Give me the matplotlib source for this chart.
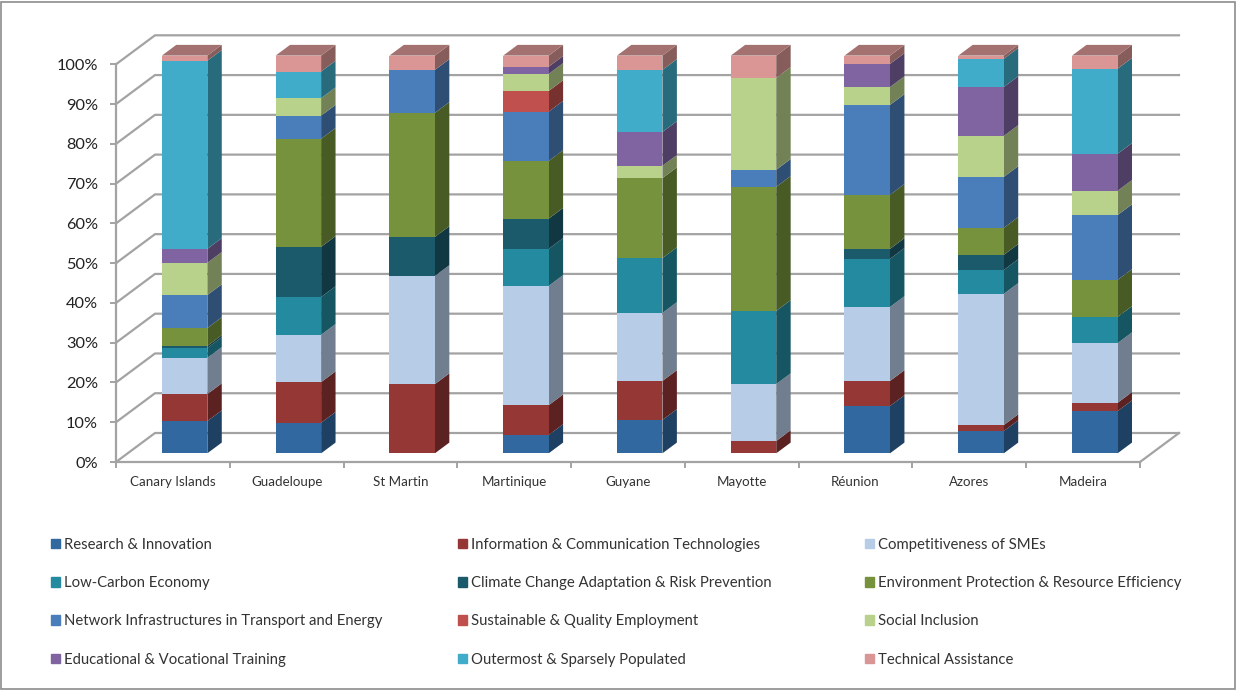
import matplotlib
matplotlib.use('Agg')
import matplotlib.pyplot as plt
from matplotlib.colors import to_rgb
from matplotlib.patches import Rectangle

plt.rcParams['font.family'] = ['Lato', 'DejaVu Sans']

W, H = 1236, 690

regions = ['Canary Islands', 'Guadeloupe', 'St Martin', 'Martinique', 'Guyane', 'Mayotte', 'Réunion', 'Azores', 'Madeira']

research = [8.1, 7.7, 0, 4.6, 8.4, 0, 11.9, 5.6, 10.6]
ict = [6.8, 10.2, 17.4, 7.5, 9.8, 3.1, 6.3, 1.5, 2.1]
smes = [9.1, 11.9, 27.2, 30.0, 17.1, 14.3, 18.6, 33.0, 15.0]
low_carbon = [2.5, 9.5, 0, 9.3, 13.8, 18.4, 12.1, 6.0, 6.6]
climate = [0.5, 12.6, 9.8, 7.6, 0, 0, 2.5, 3.8, 0]
environment = [4.5, 27.2, 31.2, 14.5, 20.1, 31.2, 13.6, 6.8, 9.3]
network = [8.3, 5.8, 10.8, 12.4, 0, 4.3, 22.6, 12.8, 16.3]
employment = [0, 0, 0, 5.2, 0, 0, 0, 0, 0]
social = [8.1, 4.4, 0, 4.3, 3.1, 23.1, 4.5, 10.3, 6.1]
training = [3.5, 0, 0, 1.8, 8.5, 0, 5.8, 12.3, 9.3]
outermost = [47.3, 6.7, 0, 0, 15.6, 0, 0, 7.1, 21.4]
assistance = [1.3, 4.0, 3.6, 2.8, 3.6, 5.6, 2.1, 0.8, 3.3]

series = [research, ict, smes, low_carbon, climate, environment, network, employment, social, training, outermost, assistance]
names = ['Research & Innovation', 'Information & Communication Technologies', 'Competitiveness of SMEs',
         'Low-Carbon Economy', 'Climate Change Adaptation & Risk Prevention', 'Environment Protection & Resource Efficiency',
         'Network Infrastructures in Transport and Energy', 'Sustainable & Quality Employment', 'Social Inclusion',
         'Educational & Vocational Training', 'Outermost & Sparsely Populated', 'Technical Assistance']
colors = ['#31689F', '#953735', '#B7CCE6', '#238A9F', '#1B5A6B', '#76923C',
          '#4A7EBB', '#C0504D', '#B8D18B', '#8064A2', '#41ACC9', '#D99694']

def shade(c, f):
    return tuple(v*f for v in to_rgb(c))

fig = plt.figure(figsize=(W/100, H/100), dpi=100)
# plot box in pixels: x 116-1140, y 64.3-462
ax = fig.add_axes([116/W, 1-462/H, (1140-116)/W, (462-64.3)/H])
ax.set_xlim(-0.5, 8.5)
ax.set_ylim(0, 100)
ax.patch.set_visible(False)

grey = '#A3A3A3'
# depth of the floor in data units
dx, dy = 39/113.8, 7.29
for v in range(0, 101, 10):
    ax.plot([-0.5, -0.5+dx, 8.5+dx], [v, v+dy, v+dy], color=grey, lw=1.6, clip_on=False, zorder=1)
ax.plot([8.5, 8.5+dx], [0, dy], color=grey, lw=1.6, clip_on=False, zorder=1)

# bars sit part way into the floor
shift_x, shift_y = 0.3*dx, 0.3*dy
side_x, side_y = 0.37*dx, 0.37*dy
width = 0.40

handles = [None]*len(series)
for j, region in enumerate(regions):
    base = shift_y
    left = j + shift_x - width/2
    right = left + width
    for i, vals in enumerate(series):
        v = vals[j]
        if v == 0:
            continue
        # right-hand face
        ax.fill([right, right+side_x, right+side_x, right],
                [base, base+side_y, base+v+side_y, base+v],
                color=shade(colors[i], 0.62), lw=0, clip_on=False, zorder=3)
        ax.bar(j+shift_x, v, width, bottom=base, color=colors[i], clip_on=False, zorder=4)
        base += v
        last = i
    # top face takes the colour of the last segment
    ax.fill([left, right, right+side_x, left+side_x],
            [base, base, base+side_y, base+side_y],
            color=shade(colors[last], 0.75), lw=0, clip_on=False, zorder=3)

for i, c in enumerate(colors):
    handles[i] = Rectangle((0, 0), 1, 1, color=c)

for s in ['top', 'right']:
    ax.spines[s].set_visible(False)
for s in ['left', 'bottom']:
    ax.spines[s].set_color(grey)
    ax.spines[s].set_linewidth(1.6)

ax.set_yticks(range(0, 101, 10))
ax.set_yticklabels(['%d%%' % v for v in range(0, 101, 10)], fontsize=11.8, color='#222222', va='center_baseline')
ax.tick_params(axis='y', color=grey, width=1.4, length=4, pad=9)
ax.set_xticks([k-0.5 for k in range(10)])
ax.set_xticklabels([])
ax.set_xticks(range(len(regions)), labels=regions, minor=True)
ax.tick_params(axis='x', which='major', color=grey, width=1.4, length=4)
ax.tick_params(axis='x', which='minor', length=0, pad=10, labelsize=9.6, labelcolor='#333333')

# legend reads row by row, so one legend per column
for col, x in enumerate([51, 458, 865]):
    idx = range(col, len(series), 3)
    fig.legend([handles[i] for i in idx], [names[i] for i in idx], loc='upper left',
               bbox_to_anchor=(x/W, 1-538/H), frameon=False, fontsize=10.75,
               handlelength=0.6, handleheight=0.6, handletextpad=0.27, labelspacing=1.62,
               borderpad=0, borderaxespad=0, labelcolor='#333333')

fig.add_artist(Rectangle((0.5/W, 1.5/H), (W-2)/W, (H-3)/H, transform=fig.transFigure, fill=False, ec='#8C8C8C', lw=1.2))
fig.savefig('out.png', dpi=100)
